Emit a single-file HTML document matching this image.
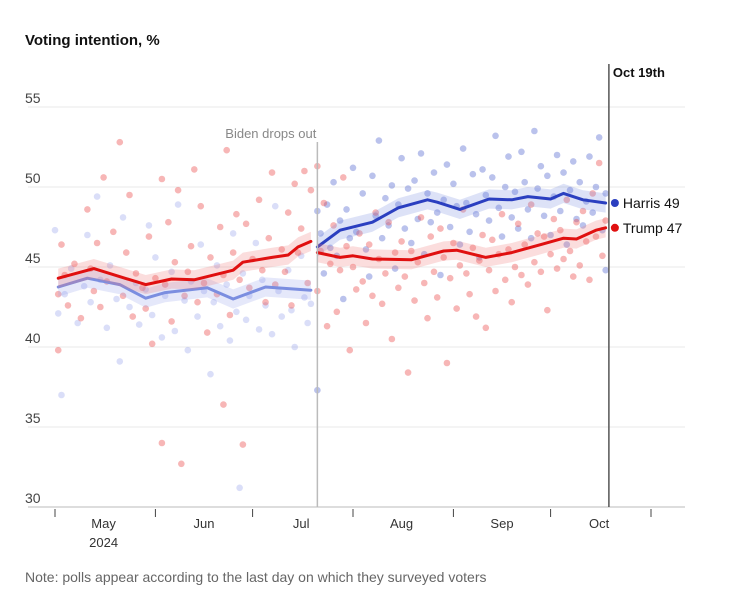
<!DOCTYPE html>
<html><head><meta charset="utf-8"><style>
body{margin:0;background:#fff;font-family:"Liberation Sans",sans-serif;}
svg text{font-family:"Liberation Sans",sans-serif;}
</style></head><body>
<svg id="chart" width="744" height="607">
<text x="25" y="45" font-size="15" font-weight="bold" fill="#111">Voting intention, %</text>
<g id="grid"></g><g id="dots"></g><g id="lines"></g><g id="annot"></g>
<text x="25" y="582" font-size="14" fill="#666">Note: polls appear according to the last day on which they surveyed voters</text>
</svg>
<script>
const yTicks=[30,35,40,45,50,55];
const monthLabels=["May","Jun","Jul","Aug","Sep","Oct"];
const monthMid=[15,46,76,107,138,168];
const monthStarts=[0,31,61,92,123,153,184];
const bidenDropDay=81, latestDay=171;
const trumpPreDays=[1,12,28,36,43,55,58,67,72,75,79];
const trumpPreVals=[44.3,44.9,43.9,44.25,44.2,44.8,45.3,45.6,45.75,46.25,46.6];
const bidenDays=[1,10,20,28,34,47,55,65,79];
const bidenVals=[43.75,44.3,43.9,43.05,43.4,43.7,43.0,43.75,43.55];
const harrisDays=[81,88,98,106,115,118,125,134,141,146,153,157,163,170];
const harrisVals=[46.25,47.3,47.8,48.7,49.2,49.05,48.6,49.25,49.2,49.4,49.25,49.6,49.2,49.0];
const trumpPostDays=[81,88,92,98,110,120,124,133,141,150,157,161,167,170];
const trumpPostVals=[45.9,45.6,45.7,45.5,45.45,46.0,46.05,45.6,45.9,46.4,46.8,46.75,47.3,47.45];
const trumpPreDots=[[1,43.3],[1,39.8],[2,46.4],[3,44.5],[4,42.6],[6,45.2],[8,41.8],[10,48.6],[11,44.9],[12,43.5],[13,46.5],[14,42.5],[15,50.6],[16,44.1],[18,47.2],[20,52.8],[21,43.2],[22,45.9],[23,49.5],[24,41.9],[25,44.6],[27,43.7],[28,42.4],[29,46.9],[30,40.2],[31,44.3],[33,50.5],[33,34.0],[34,43.9],[35,47.8],[36,41.6],[37,45.3],[38,49.8],[39,32.7],[40,43.2],[41,44.7],[42,46.3],[43,51.1],[44,42.8],[45,48.8],[46,44.0],[47,40.9],[48,45.6],[50,43.3],[51,47.5],[52,36.4],[52,44.5],[53,52.3],[54,42.0],[55,45.9],[56,48.3],[57,44.2],[58,33.9],[59,47.7],[60,43.7],[61,45.5],[63,49.2],[64,44.8],[65,42.8],[66,46.8],[67,50.9],[68,43.9],[70,46.1],[71,44.7],[72,48.4],[73,42.6],[74,50.2],[75,45.9],[76,47.4],[77,51.0],[78,44.0],[79,49.8]];
const bidenDots=[[0,47.3],[1,42.1],[2,37.0],[3,43.3],[5,44.9],[7,41.5],[9,43.8],[10,47.0],[11,42.8],[13,49.4],[14,44.2],[16,41.2],[17,45.1],[19,43.0],[20,39.1],[21,48.1],[23,42.5],[25,44.0],[26,41.4],[28,43.6],[29,47.6],[30,42.0],[31,45.6],[33,40.6],[34,43.2],[36,44.7],[37,41.0],[38,48.9],[40,42.9],[41,39.8],[42,44.1],[44,41.9],[45,46.4],[46,43.5],[48,38.3],[49,42.8],[50,45.1],[51,41.3],[53,43.9],[54,40.4],[55,47.1],[56,42.2],[57,31.2],[58,44.6],[59,41.7],[60,43.2],[62,46.5],[63,41.1],[64,44.2],[65,42.6],[67,40.8],[68,48.8],[69,43.5],[70,41.9],[72,44.8],[73,42.3],[74,40.0],[76,45.7],[77,43.1],[78,41.5],[79,42.7]];
const harrisDots=[[81,48.5],[81,37.3],[82,47.1],[83,44.6],[84,48.9],[85,46.2],[86,50.3],[87,45.7],[88,47.9],[89,43.0],[90,48.6],[91,46.8],[92,51.2],[93,47.2],[95,49.6],[96,46.1],[97,44.4],[98,50.7],[99,48.2],[100,52.9],[101,46.8],[102,49.3],[103,47.6],[104,50.1],[105,44.9],[106,48.9],[107,51.8],[108,47.4],[109,49.9],[110,46.5],[111,50.4],[112,48.0],[113,52.1],[114,45.8],[115,49.6],[116,47.8],[117,50.9],[118,48.4],[119,44.5],[120,49.2],[121,51.4],[122,47.5],[123,50.2],[124,48.8],[125,46.4],[126,52.4],[127,49.0],[128,47.2],[129,50.8],[130,48.3],[131,45.6],[132,51.1],[133,49.5],[134,47.9],[135,50.6],[136,53.2],[137,48.7],[138,46.9],[139,50.0],[140,51.9],[141,48.1],[142,49.7],[143,47.4],[144,52.2],[145,50.3],[146,48.6],[147,46.8],[148,53.5],[149,49.9],[150,51.3],[151,48.2],[152,50.7],[153,47.0],[154,49.4],[155,52.0],[156,48.5],[157,50.9],[158,46.4],[159,49.8],[160,51.6],[161,48.0],[162,50.3],[163,47.6],[164,49.1],[165,51.9],[166,48.4],[167,50.0],[168,53.1],[169,47.3],[170,49.6],[170,44.8]];
const trumpPostDots=[[81,51.3],[81,43.5],[82,46.0],[83,49.0],[84,41.3],[85,45.2],[86,47.6],[87,42.2],[88,44.8],[89,50.6],[90,46.3],[91,39.8],[92,45.0],[93,43.6],[94,47.1],[95,44.1],[96,41.5],[97,46.4],[98,43.2],[99,48.4],[100,45.5],[101,42.7],[102,44.6],[103,47.8],[104,40.5],[105,45.9],[106,43.7],[107,46.6],[108,44.4],[109,38.4],[110,46.0],[111,42.9],[112,45.3],[113,48.1],[114,44.0],[115,41.8],[116,46.9],[117,44.7],[118,43.1],[119,47.4],[120,45.6],[121,39.0],[122,44.3],[123,46.5],[124,42.4],[125,45.1],[126,48.6],[127,44.6],[128,43.3],[129,46.2],[130,41.9],[131,45.4],[132,47.0],[133,41.2],[134,44.8],[135,46.7],[136,43.5],[137,45.8],[138,48.3],[139,44.2],[140,46.1],[141,42.8],[142,45.0],[143,47.7],[144,44.5],[145,46.4],[146,43.9],[147,48.9],[148,45.3],[149,47.1],[150,44.7],[151,46.9],[152,42.3],[153,45.8],[154,48.0],[155,44.9],[156,47.3],[157,45.5],[158,49.2],[159,46.0],[160,44.4],[161,47.8],[162,45.1],[163,48.5],[164,46.6],[165,44.2],[166,49.6],[167,46.9],[168,51.5],[169,45.7],[170,47.9]];
const harrisLabel="Harris 49", trumpLabel="Trump 47";

const NS="http://www.w3.org/2000/svg";
const X=d=>55+d*(596/184);
const Y=v=>507-(v-30)*16;
function mk(tag,attrs,parent,text){const e=document.createElementNS(NS,tag);for(const k in attrs)e.setAttribute(k,attrs[k]);if(text!==undefined)e.textContent=text;parent.appendChild(e);return e;}
const grid=document.getElementById('grid'),dotsG=document.getElementById('dots'),linesG=document.getElementById('lines'),ann=document.getElementById('annot');
yTicks.forEach(v=>{
  const l=mk('line',{x1:28,x2:685,y1:Y(v),y2:Y(v),stroke:v===30?'#ddd':'#e8e8e8','stroke-width':v===30?2:1},grid);
  
  
  const t=mk('text',{x:25,y:Y(v)-4,'font-size':14,fill:'#444'},grid,String(v));
  
  
});
monthStarts.forEach(d=>{
  const l=mk('line',{x1:X(d),x2:X(d),y1:509,y2:517,stroke:'#444','stroke-width':1},grid);
  
  
});
monthLabels.forEach((m,i)=>{
  const t=mk('text',{x:X(monthMid[i]),y:528,'font-size':13,fill:'#333','text-anchor':'middle'},grid,m);
  
  
});
const yr=mk('text',{x:X(monthMid[0]),y:547,'font-size':13,fill:'#333','text-anchor':'middle'},grid,'2024');



function drawDots(arr,color,name){arr.forEach(p=>{
  const c=mk('circle',{cx:X(p[0]),cy:Y(p[1]),r:3.3,fill:color},dotsG);
  
  
});}
drawDots(bidenDots,'rgba(150,160,235,0.35)','biden-poll-dot');
drawDots(trumpPreDots,'rgba(235,80,80,0.42)','trump-poll-dot');
drawDots(harrisDots,'rgba(90,110,210,0.42)','harris-poll-dot');
drawDots(trumpPostDots,'rgba(235,80,80,0.42)','trump-poll-dot');

function drawLine(days,vals,color,band,w,name){
  const up=days.map((d,i)=>X(d)+','+Y(vals[i]+0.6)).join(' ');
  const dn=days.map((d,i)=>X(d)+','+Y(vals[i]-0.6)).reverse().join(' ');
  const b=mk('polygon',{points:up+' '+dn,fill:band},linesG);
  
  
  const l=mk('polyline',{points:days.map((d,i)=>X(d)+','+Y(vals[i])).join(' '),fill:'none',stroke:color,'stroke-width':w,'stroke-linejoin':'round','stroke-linecap':'round'},linesG);
  
  
}
drawLine(bidenDays,bidenVals,'#7b8ee0','rgba(150,165,235,0.25)',3,'biden-average');
drawLine(trumpPreDays,trumpPreVals,'#e01010','rgba(240,120,120,0.25)',3,'trump-average-pre');
drawLine(harrisDays,harrisVals,'#2b3fc0','rgba(120,140,225,0.25)',3,'harris-average');
drawLine(trumpPostDays,trumpPostVals,'#e01010','rgba(240,120,120,0.25)',3,'trump-average-post');

const bl=mk('line',{x1:X(bidenDropDay),x2:X(bidenDropDay),y1:142,y2:507,stroke:'#bbb','stroke-width':1.5},ann);


const bt=mk('text',{x:X(bidenDropDay)-1,y:138,'font-size':13,fill:'#888','text-anchor':'end'},ann,'Biden drops out');


const ol=mk('line',{x1:X(latestDay),x2:X(latestDay),y1:64,y2:507,stroke:'#555','stroke-width':1.5},ann);


const ot=mk('text',{x:X(latestDay)+4,y:77,'font-size':13,'font-weight':'bold',fill:'#111'},ann,'Oct 19th');


const hv=harrisVals[harrisVals.length-1], tv=trumpPostVals[trumpPostVals.length-1];
const hd=mk('circle',{cx:X(latestDay)+6,cy:Y(hv),r:4,fill:'#2b3fc0'},ann);


const ht=mk('text',{x:X(latestDay)+14,y:Y(hv)+5,'font-size':14,fill:'#111'},ann,harrisLabel);


const td=mk('circle',{cx:X(latestDay)+6,cy:Y(tv),r:4,fill:'#e01010'},ann);


const tt=mk('text',{x:X(latestDay)+14,y:Y(tv)+5,'font-size':14,fill:'#111'},ann,trumpLabel);


</script>
</body></html>
